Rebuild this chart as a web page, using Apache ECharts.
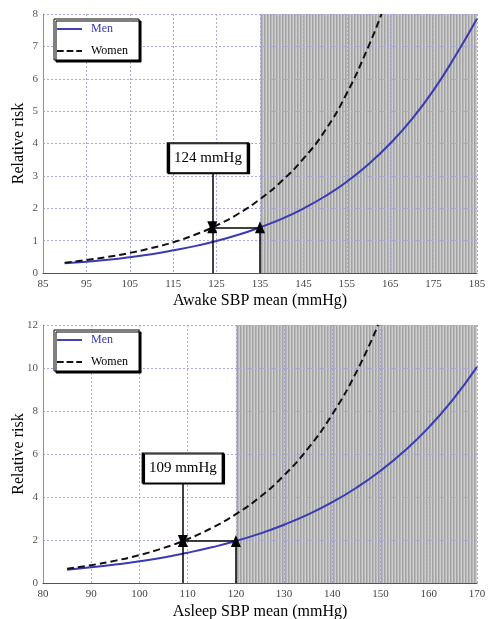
<!DOCTYPE html>
<html>
<head>
<meta charset="utf-8">
<script src="https://cdn.jsdelivr.net/npm/echarts@6/dist/echarts.min.js"></script>
<style>
html,body{margin:0;padding:0;background:#fff;}
#chart{width:488px;height:619px;}
</style>
</head>
<body>
<div id="chart"></div>
<script>
// ---------- Data ----------
const awakeMenX = [90,95,100,105,110,115,120,125,130,135,140,145,150,155,160,165,170,175,180,185];
const awakeMen  = [0.30,0.35,0.41,0.49,0.58,0.70,0.83,0.99,1.18,1.41,1.67,1.99,2.37,2.82,3.36,4.00,4.75,5.65,6.70,7.85];
const awakeWomenX = [90,95,100,105,110,115,120,125,130,135,140,145,150,155,160,163];
const awakeWomen  = [0.32,0.40,0.50,0.62,0.77,0.95,1.18,1.47,1.83,2.28,2.84,3.53,4.40,5.55,7.00,8.00];

const asleepMenX = [85,90,95,100,105,110,115,120,125,130,135,140,145,150,155,160,165,170];
const asleepMen  = [0.62,0.73,0.86,1.01,1.19,1.41,1.66,1.95,2.30,2.71,3.19,3.76,4.43,5.22,6.15,7.24,8.53,10.05];
const asleepWomenX = [85,90,95,100,105,110,115,120,125,130,135,140,145,149.5];
const asleepWomen  = [0.66,0.83,1.04,1.30,1.63,2.04,2.56,3.20,4.00,5.01,6.27,7.85,9.82,12.0];

// thresholds / annotations
const awakeWomenCut = 124, awakeMenCut = 135, awakeRisk = 1.41, awakeLabel = '124 mmHg';
const asleepWomenCut = 109, asleepMenCut = 120, asleepRisk = 1.95, asleepLabel = '109 mmHg';
const awakeBox = {x: 123, yTop: 4.02, yBottom: 3.10};
const asleepBox = {x: 109, yTop: 6.05, yBottom: 4.65};

const awakeAxis = {min: 85, max: 185, interval: 10, ymax: 8, yint: 1};
const asleepAxis = {min: 80, max: 170, interval: 10, ymax: 12, yint: 2};

// ---------- helpers ----------
const zip = (xs, ys) => xs.map((x, i) => [x, ys[i]]);
const serif = '"Liberation Serif","DejaVu Serif",serif';

const pat = document.createElement('canvas');
pat.width = 3; pat.height = 4;
(function(){
  const c = pat.getContext('2d');
  const cols = ['#9a9a9a','#b0b0b0','#cacaca'];
  cols.forEach((col, i) => { c.fillStyle = col; c.fillRect(i, 0, 1, 4); });
})();

const BLUE = '#3a3ab4';
const GRID_C = '#a8a8dc';

function xAxisOf(idx, ax, name) {
  return {
    type: 'value', gridIndex: idx, min: ax.min, max: ax.max, interval: ax.interval, z: 1,
    name: name, nameLocation: 'middle', nameGap: idx === 0 ? 20 : 21,
    nameTextStyle: {fontFamily: serif, fontSize: 16, color: '#000'},
    axisLine: {show: true, lineStyle: {color: '#4848a8', width: 1.2}},
    axisTick: {show: false},
    axisLabel: {fontFamily: serif, fontSize: 11, color: '#444', margin: 6},
    splitLine: {show: true, lineStyle: {color: GRID_C, width: 1, type: [2, 2]}}
  };
}
function yAxisOf(idx, ax) {
  return {
    type: 'value', gridIndex: idx, min: 0, max: ax.ymax, interval: ax.yint, z: 1,
    name: 'Relative risk', nameLocation: 'middle', nameGap: 16, nameMoveOverlap: false,
    nameTextStyle: {fontFamily: serif, fontSize: 16, color: '#000'},
    axisLine: {show: true, lineStyle: {color: '#8888cc', width: 1}},
    axisTick: {show: false},
    axisLabel: {fontFamily: serif, fontSize: 11, color: '#555', margin: 5},
    splitLine: {show: true, lineStyle: {color: GRID_C, width: 1, type: [2, 2]}}
  };
}

function annotations(cutW, cutM, risk, box, label) {
  const ls = {color: '#000', width: 1.5, type: 'solid'};
  return {
    markLine: {
      silent: true, animation: false, z: 5,
      label: {show: false},
      symbolSize: [10, 12],
      lineStyle: ls,
      data: [
        [{coord: [cutW, box.yBottom], symbol: 'none'}, {coord: [cutW, risk], symbol: 'triangle'}],
        [{coord: [cutW, 0], symbol: 'none'}, {coord: [cutW, risk], symbol: 'triangle'}],
        [{coord: [cutW, risk], symbol: 'none'}, {coord: [cutM, risk], symbol: 'none'}],
        [{coord: [cutM, 0], symbol: 'none'}, {coord: [cutM, risk], symbol: 'triangle'}]
      ]
    },
    markPoint: {
      silent: true, animation: false, z: 6,
      data: [{
        coord: [box.x, (box.yTop + box.yBottom) / 2],
        symbol: 'rect', symbolSize: [80, 30],
        itemStyle: {color: '#fff', borderColor: '#000', borderWidth: 1.5,
          shadowColor: '#000', shadowOffsetX: 1, shadowOffsetY: 1, shadowBlur: 0},
        label: {show: true, position: 'inside', formatter: label,
          fontFamily: serif, fontSize: 15, color: '#000'}
      }]
    }
  };
}

function shade(from, ax) {
  return {
    markArea: {
      silent: true, animation: false, z: 0.5,
      itemStyle: {color: {image: pat, repeat: 'repeat'}, opacity: 0.9},
      data: [[{coord: [from, 0]}, {coord: [ax.max, ax.ymax]}]]
    }
  };
}

function legendOf(top) {
  return {
    orient: 'vertical', left: 54, top: top,
    itemWidth: 25, itemHeight: 2, itemGap: 10,
    padding: [4, 11, 3, 3],
    backgroundColor: '#fff', borderColor: '#000', borderWidth: 1,
    shadowColor: '#000', shadowOffsetX: 2, shadowOffsetY: 2, shadowBlur: 0,
    textStyle: {fontFamily: serif, fontSize: 12, padding: [0, 0, 0, 4]},
    data: [
      {name: 'Men', icon: 'path://M0,0H26V2H0Z', textStyle: {color: BLUE, padding: [0, 0, 0, 4]}},
      {name: 'Women', icon: 'path://M0,0H7V2H0Z M10,0H17V2H10Z M20,0H26V2H20Z', textStyle: {color: '#000', padding: [0, 0, 0, 4]}}
    ]
  };
}

const gridBase = {outerBoundsMode: 'none', containLabel: false};
const option = {
  animation: false,
  backgroundColor: '#fff',
  grid: [
    Object.assign({left: 43, top: 14, width: 434, height: 259}, gridBase),
    Object.assign({left: 43, top: 325, width: 434, height: 258}, gridBase)
  ],
  legend: [legendOf(19), legendOf(330)],
  xAxis: [xAxisOf(0, awakeAxis, 'Awake SBP mean (mmHg)'), xAxisOf(1, asleepAxis, 'Asleep SBP mean (mmHg)')],
  yAxis: [yAxisOf(0, awakeAxis), yAxisOf(1, asleepAxis)],
  series: [
    Object.assign({
      name: 'Men', type: 'line', xAxisIndex: 0, yAxisIndex: 0, smooth: true, symbol: 'none', clip: true,
      lineStyle: {color: BLUE, width: 2}, itemStyle: {color: BLUE},
      data: zip(awakeMenX, awakeMen)
    }, shade(awakeMenCut, awakeAxis)),
    Object.assign({
      name: 'Women', type: 'line', xAxisIndex: 0, yAxisIndex: 0, smooth: true, symbol: 'none', clip: true,
      lineStyle: {color: '#111', width: 2, type: [7, 4]}, itemStyle: {color: '#111'},
      data: zip(awakeWomenX, awakeWomen)
    }, annotations(awakeWomenCut, awakeMenCut, awakeRisk, awakeBox, awakeLabel)),
    Object.assign({
      name: 'Men', type: 'line', xAxisIndex: 1, yAxisIndex: 1, smooth: true, symbol: 'none', clip: true,
      lineStyle: {color: BLUE, width: 2}, itemStyle: {color: BLUE},
      data: zip(asleepMenX, asleepMen)
    }, shade(asleepMenCut, asleepAxis)),
    Object.assign({
      name: 'Women', type: 'line', xAxisIndex: 1, yAxisIndex: 1, smooth: true, symbol: 'none', clip: true,
      lineStyle: {color: '#111', width: 2, type: [7, 4]}, itemStyle: {color: '#111'},
      data: zip(asleepWomenX, asleepWomen)
    }, annotations(asleepWomenCut, asleepMenCut, asleepRisk, asleepBox, asleepLabel))
  ]
};

const chart = echarts.init(document.getElementById('chart'), null, {renderer: 'canvas'});
chart.setOption(option);
</script>
</body>
</html>
